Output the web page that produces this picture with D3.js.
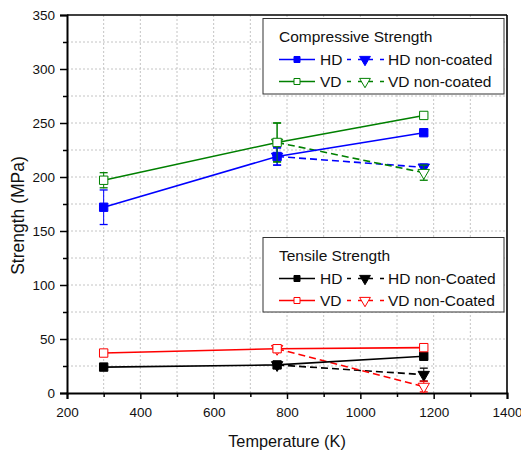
<!DOCTYPE html>
<html>
<head>
<meta charset="utf-8">
<script src="https://cdn.jsdelivr.net/npm/d3@7"></script>
<style>
  html, body { margin: 0; padding: 0; background: #fff; }
  svg { display: block; font-family: Arial, "Liberation Sans", sans-serif; }
</style>
</head>
<body>
<svg id="chart" width="521" height="454"></svg>
<script>
// ---- data (MPa vs K) ----
const temps   = [300, 773, 1173];
const tempsNC = [773, 1173];

const compHD      = [172, 219, 241];
const compHDErr   = [16, 8, 2];
const compVD      = [197, 232, 257];
const compVDErr   = [7, 18, 2];
const compHDnc    = [219, 209];
const compHDncErr = [8, 3];
const compVDnc    = [232, 204];
const compVDncErr = [18, 7];

const tensHD      = [24, 26, 34];
const tensHDErr   = [1, 2, 2];
const tensVD      = [37, 41, 42];
const tensVDErr   = [1, 3, 3];
const tensHDnc    = [26, 17];
const tensHDncErr = [2, 6];
const tensVDnc    = [41, 6];
const tensVDncErr = [3, 5];

const xTicks = [200, 400, 600, 800, 1000, 1200, 1400];
const yTicks = [0, 50, 100, 150, 200, 250, 300, 350];

const xTitle = "Temperature (K)";
const yTitle = "Strength (MPa)";
const compTitle = "Compressive Strength";
const tensTitle = "Tensile Strength";

// ---- series table ----
const BLUE = "#0000ff", GREEN = "#008000", BLACK = "#000000", RED = "#ff0000";
const series = [
  { name: "HD non-coated", x: tempsNC, y: compHDnc, e: compHDncErr, color: BLUE,  marker: "tri", fill: true,  dash: true },
  { name: "VD non-coated", x: tempsNC, y: compVDnc, e: compVDncErr, color: GREEN, marker: "tri", fill: false, dash: true },
  { name: "HD",            x: temps,   y: compHD,   e: compHDErr,   color: BLUE,  marker: "sq",  fill: true,  dash: false },
  { name: "VD",            x: temps,   y: compVD,   e: compVDErr,   color: GREEN, marker: "sq",  fill: false, dash: false },
  { name: "HD non-Coated", x: tempsNC, y: tensHDnc, e: tensHDncErr, color: BLACK, marker: "tri", fill: true,  dash: true },
  { name: "VD non-Coated", x: tempsNC, y: tensVDnc, e: tensVDncErr, color: RED,   marker: "tri", fill: false, dash: true },
  { name: "HD",            x: temps,   y: tensHD,   e: tensHDErr,   color: BLACK, marker: "sq",  fill: true,  dash: false },
  { name: "VD",            x: temps,   y: tensVD,   e: tensVDErr,   color: RED,   marker: "sq",  fill: false, dash: false }
];

// ---- layout ----
const L = 67, R = 507, T = 15, B = 393;
const svg = d3.select("#chart");

const x = d3.scaleLinear().domain([200, 1400]).range([L, R]);
const y = d3.scaleLinear().domain([0, 350]).range([B, T]);

// grid
const grid = svg.append("g").attr("stroke", "#c4c4c4").attr("stroke-width", 1)
  .attr("stroke-dasharray", "2,2").attr("fill", "none");
d3.range(300, 1400, 100).forEach(v => {
  grid.append("line").attr("x1", x(v)).attr("x2", x(v)).attr("y1", T).attr("y2", B);
});
d3.range(25, 350, 25).forEach(v => {
  grid.append("line").attr("x1", L).attr("x2", R).attr("y1", y(v)).attr("y2", y(v));
});

// frame (top / right)
svg.append("line").attr("x1", L).attr("x2", R).attr("y1", T).attr("y2", T)
  .attr("stroke", "#000").attr("stroke-width", 1.6);
svg.append("line").attr("x1", R).attr("x2", R).attr("y1", T).attr("y2", B)
  .attr("stroke", "#000").attr("stroke-width", 1.6);

// minor ticks
const xMinor = svg.append("g").attr("transform", `translate(0,${B})`)
  .call(d3.axisBottom(x).tickValues(d3.range(300, 1400, 200)).tickSize(4).tickFormat(""));
const yMinor = svg.append("g").attr("transform", `translate(${L},0)`)
  .call(d3.axisLeft(y).tickValues(d3.range(25, 350, 50)).tickSize(4).tickFormat(""));

// major axes
const xAxis = svg.append("g").attr("transform", `translate(0,${B})`)
  .call(d3.axisBottom(x).tickValues(xTicks).tickSize(6).tickPadding(8).tickFormat(d3.format("d")));
const yAxis = svg.append("g").attr("transform", `translate(${L},0)`)
  .call(d3.axisLeft(y).tickValues(yTicks).tickSize(7).tickPadding(5).tickFormat(d3.format("d")));

[xMinor, yMinor, xAxis, yAxis].forEach(g => {
  g.select(".domain").attr("stroke", "#000").attr("stroke-width", 2);
  g.selectAll(".tick line").attr("stroke", "#000").attr("stroke-width", 1.5);
  g.selectAll(".tick text").attr("fill", "#111").style("font-size", "13.5px")
    .style("font-family", "Arial, 'Liberation Sans', sans-serif");
});
xMinor.select(".domain").remove();
yMinor.select(".domain").remove();

// axis titles
svg.append("text").attr("x", 287).attr("y", 447).attr("text-anchor", "middle")
  .style("font-size", "16.3px").attr("fill", "#111").text(xTitle);
svg.append("text").attr("transform", `translate(24,215.5) rotate(-90)`)
  .attr("text-anchor", "middle").style("font-size", "17.5px").attr("fill", "#111").text(yTitle);

// markers
const sqPath  = s => d3.symbol(d3.symbolSquare, s)();
const triPath = s => d3.symbol(d3.symbolTriangle, s)();

function drawMarker(g, cx, cy, kind, color, filled, scale) {
  const k = scale || 1;
  if (kind === "sq") {
    g.append("path").attr("d", sqPath(70 * k * k))
      .attr("transform", `translate(${cx},${cy})`)
      .attr("fill", filled ? color : "#fff").attr("stroke", color).attr("stroke-width", 1);
  } else {
    g.append("path").attr("d", triPath(56 * k * k))
      .attr("transform", `translate(${cx},${cy}) rotate(180)`)
      .attr("fill", filled ? color : "#fff").attr("stroke", color).attr("stroke-width", 1);
  }
}

// series
const plot = svg.append("g");
const line = d3.line().x(d => x(d[0])).y(d => y(d[1]));
series.forEach(s => {
  const pts = s.x.map((t, i) => [t, s.y[i], s.e[i]]);
  const g = plot.append("g");
  g.append("path").attr("d", line(pts)).attr("fill", "none")
    .attr("stroke", s.color).attr("stroke-width", 1.6)
    .attr("stroke-dasharray", s.dash ? "7,4" : null);
  pts.forEach(p => {
    const cx = x(p[0]);
    g.append("line").attr("x1", cx).attr("x2", cx).attr("y1", y(p[1] - p[2])).attr("y2", y(p[1] + p[2]))
      .attr("stroke", s.color).attr("stroke-width", 1);
    [p[1] - p[2], p[1] + p[2]].forEach(v => {
      g.append("line").attr("x1", cx - 4).attr("x2", cx + 4).attr("y1", y(v)).attr("y2", y(v))
        .attr("stroke", s.color).attr("stroke-width", 1.3);
    });
    drawMarker(g, cx, y(p[1]), s.marker, s.color, s.fill);
  });
});

// legends
function legend(x0, y0, w, h, title, rows) {
  const g = svg.append("g");
  g.append("rect").attr("x", x0).attr("y", y0).attr("width", w).attr("height", h)
    .attr("fill", "#fff").attr("stroke", "#333").attr("stroke-width", 1);
  g.append("text").attr("x", x0 + 16).attr("y", y0 + 23).style("font-size", "15.5px")
    .attr("fill", "#111").text(title);
  rows.forEach((r, i) => {
    const by = y0 + 46.5 + i * 22;
    const my = by - 5.5;
    const solid = r[0], dashed = r[1];
    g.append("line").attr("x1", x0 + 16).attr("x2", x0 + 52).attr("y1", my).attr("y2", my)
      .attr("stroke", solid.color).attr("stroke-width", 1.6);
    drawMarker(g, x0 + 34, my, solid.marker, solid.color, solid.fill, 0.72);
    g.append("text").attr("x", x0 + 57).attr("y", by).style("font-size", "15.5px")
      .attr("fill", "#111").text(solid.name);
    g.append("line").attr("x1", x0 + 84).attr("x2", x0 + 123).attr("y1", my).attr("y2", my)
      .attr("stroke", dashed.color).attr("stroke-width", 1.6).attr("stroke-dasharray", "4,7");
    drawMarker(g, x0 + 102, my, dashed.marker, dashed.color, dashed.fill, 0.95);
    g.append("text").attr("x", x0 + 125).attr("y", by).style("font-size", "15.5px")
      .attr("fill", "#111").text(dashed.name);
  });
}
legend(263, 18.5, 241, 75.5, compTitle, [[series[2], series[0]], [series[3], series[1]]]);
legend(263, 237.5, 241, 74.5, tensTitle, [[series[6], series[4]], [series[7], series[5]]]);
</script>
</body>
</html>
